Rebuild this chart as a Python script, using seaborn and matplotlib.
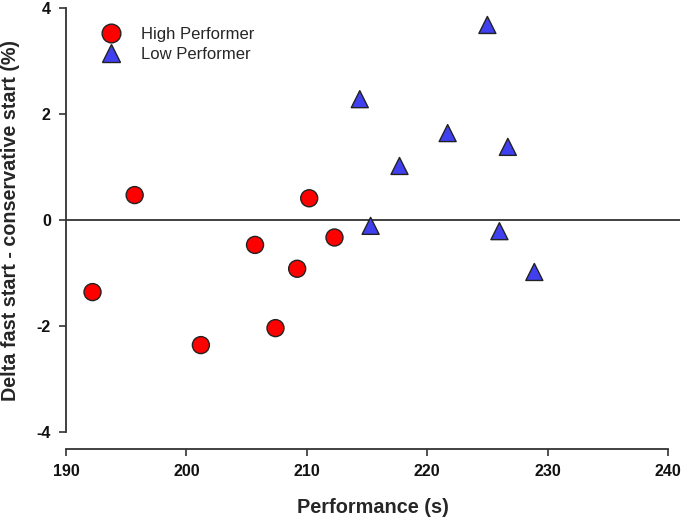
import pandas as pd
import matplotlib
matplotlib.use("Agg")
import matplotlib.pyplot as plt
import seaborn as sns

# values
high_perf = [192.2, 195.7, 201.2, 205.7, 207.4, 209.2, 210.2, 212.3]
high_delta = [-1.36, 0.47, -2.36, -0.47, -2.04, -0.92, 0.41, -0.33]
low_perf = [225.0, 214.4, 221.7, 226.7, 217.7, 215.3, 226.0, 228.9]
low_delta = [3.68, 2.28, 1.64, 1.38, 1.02, -0.11, -0.21, -0.98]
groups = ["High Performer", "Low Performer"]
x_ticks = [190, 200, 210, 220, 230, 240]
y_ticks = [-4, -2, 0, 2, 4]

data = pd.DataFrame({
    "perf": high_perf + low_perf,
    "delta": high_delta + low_delta,
    "group": [groups[0]] * len(high_perf) + [groups[1]] * len(low_perf),
})

sns.set_style("white", {"xtick.bottom": True, "ytick.left": True})
plt.rcParams["font.family"] = ["Liberation Sans", "DejaVu Sans"]
plt.rcParams["axes.unicode_minus"] = False

fig = plt.figure(figsize=(6.85, 5.19), dpi=100)
ax = fig.add_axes([0.0964, 0.1676, 0.8963, 0.817])

ax.axhline(0, color="#333333", lw=1.3, zorder=1)

sns.scatterplot(data=data, x="perf", y="delta", hue="group", style="group",
                palette={groups[0]: "#FF0000", groups[1]: "#4040F0"},
                markers={groups[0]: "o", groups[1]: "^"},
                s=150, edgecolor="#222222", linewidth=1.0, ax=ax, zorder=3)

for side in ["top", "right"]:
    ax.spines[side].set_visible(False)
for side in ["left", "bottom"]:
    ax.spines[side].set_color("#333333")
    ax.spines[side].set_linewidth(1.3)
ax.spines["bottom"].set_position(("outward", 12))

ax.set_xlim(190, 241)
ax.set_ylim(-4, 4)
ax.spines["bottom"].set_bounds(190, 240)
ax.set_xticks(x_ticks)
ax.set_yticks(y_ticks)
ax.set_xticklabels([str(t) for t in x_ticks], fontweight="bold")
ax.set_yticklabels([str(t) for t in y_ticks], fontweight="bold")
ax.tick_params(axis="both", which="major", direction="out", length=5, width=1.2,
               color="#333333", labelsize=11.5, pad=6, labelcolor="#111111")

ax.set_xlabel("Performance (s)", fontsize=14.3, fontweight="bold", labelpad=14)
ax.set_ylabel("Delta fast start - conservative start (%)", fontsize=14.2,
              fontweight="bold", labelpad=12)

handles, labels = ax.get_legend_handles_labels()
ax.legend(handles=handles, labels=labels, loc="upper left", frameon=False,
          fontsize=12, markerscale=1.1, handletextpad=0.8, labelspacing=0.3,
          bbox_to_anchor=(0.022, 0.99))

fig.savefig("out.png", dpi=100)
